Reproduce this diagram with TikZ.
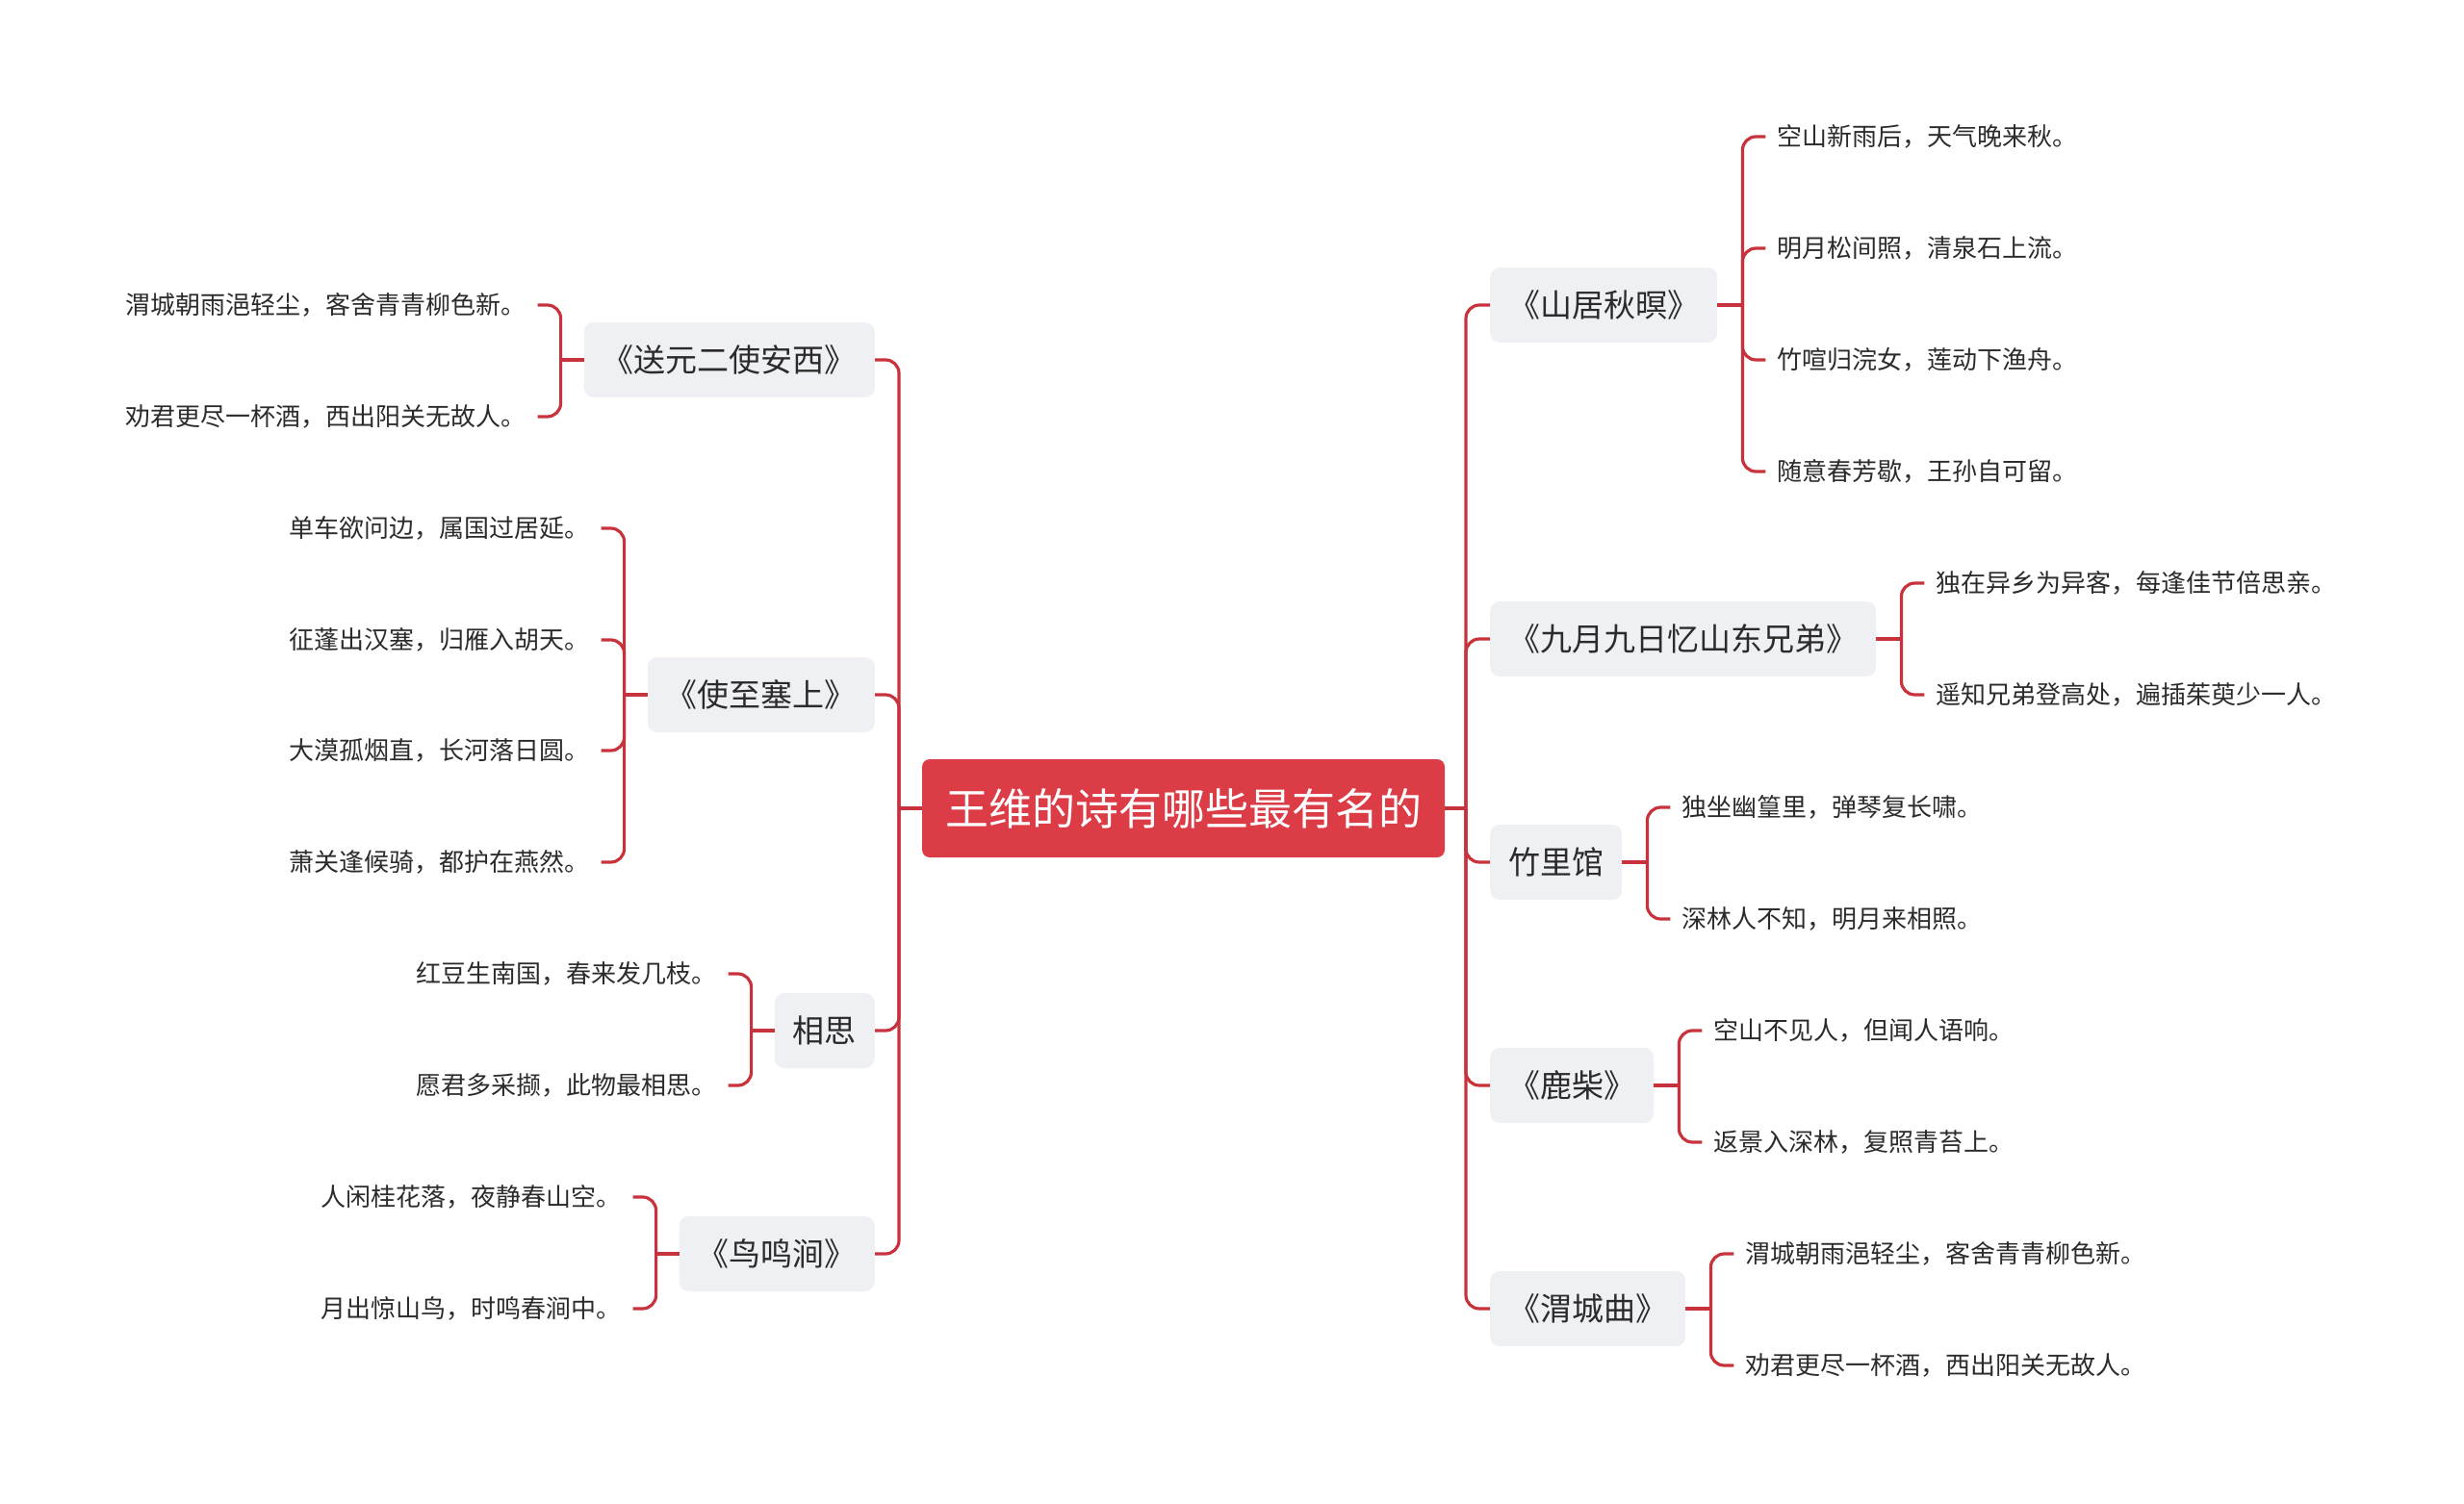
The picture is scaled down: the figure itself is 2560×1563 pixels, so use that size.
\documentclass[tikz,border=0pt]{standalone}
\usepackage{fontspec}
\setmainfont{Noto Sans CJK SC}
\usetikzlibrary{calc}
\definecolor{rootred}{HTML}{DB3C45}
\definecolor{linered}{HTML}{C8323C}
\definecolor{boxgray}{HTML}{EEF0F3}
\definecolor{txt}{HTML}{2B2B2B}
\begin{document}
\begin{tikzpicture}[x=1pt,y=-1pt,
 rootbox/.style={fill=rootred, text=white, rounded corners=8pt, font=\fontsize{45}{54}\selectfont, inner xsep=24pt, inner ysep=0pt, minimum height=102pt},
 topic/.style={fill=boxgray, text=txt, rounded corners=10pt, font=\fontsize{33}{40}\selectfont, inner xsep=19pt, inner ysep=0pt, minimum height=78pt},
 leaf/.style={text=txt, font=\fontsize{26}{31}\selectfont, inner xsep=12pt, inner ysep=4pt},
 conn/.style={draw=linered, line width=3.2pt, rounded corners=14pt},
 straight/.style={draw=linered, line width=3.2pt}]
\useasboundingbox (0,0) rectangle (2560,1563);

\node[rootbox] (root) at (1229.5,840) {王维的诗有哪些最有名的};

% right topics
\node[topic,anchor=west] (r1) at (1548,317) {《山居秋暝》};
\node[topic,anchor=west] (r2) at (1548,664) {《九月九日忆山东兄弟》};
\node[topic,anchor=west] (r3) at (1548,896) {竹里馆};
\node[topic,anchor=west] (r4) at (1548,1128) {《鹿柴》};
\node[topic,anchor=west] (r5) at (1548,1360) {《渭城曲》};

% left topics
\node[topic,anchor=east] (l1) at (909,374) {《送元二使安西》};
\node[topic,anchor=east] (l2) at (909,722) {《使至塞上》};
\node[topic,anchor=east] (l3) at (909,1071) {相思};
\node[topic,anchor=east] (l4) at (909,1303) {《鸟鸣涧》};

% trunks
\coordinate (rt) at (1523,840);
\coordinate (lt) at (934,840);
\draw[straight] (root.east) -- (rt);
\draw[straight] (root.west) -- (lt);
\foreach \n in {r1,r2,r3,r4,r5} \draw[conn] (rt) |- (\n.west);
\foreach \n in {l1,l2,l3,l4} \draw[conn] (lt) |- (\n.east);

% bracket points
\foreach \n in {r1,r2,r3,r4,r5} {
  \draw[straight] (\n.east) -- ++(26,0) coordinate (\n b);
  \coordinate (\n L) at ($(\n b)+(24,0)$);
}
\foreach \n in {l1,l2,l3,l4} {
  \draw[straight] (\n.west) -- ++(-24,0) coordinate (\n b);
  \coordinate (\n L) at ($(\n b)+(-24,0)$);
}

% right leaves
\node[leaf,anchor=west] (r1a) at (r1L |- 0,142) {空山新雨后，天气晚来秋。};
\node[leaf,anchor=west] (r1c) at (r1L |- 0,258) {明月松间照，清泉石上流。};
\node[leaf,anchor=west] (r1d) at (r1L |- 0,374) {竹喧归浣女，莲动下渔舟。};
\node[leaf,anchor=west] (r1e) at (r1L |- 0,490) {随意春芳歇，王孙自可留。};
\node[leaf,anchor=west] (r2a) at (r2L |- 0,606) {独在异乡为异客，每逢佳节倍思亲。};
\node[leaf,anchor=west] (r2c) at (r2L |- 0,722) {遥知兄弟登高处，遍插茱萸少一人。};
\node[leaf,anchor=west] (r3a) at (r3L |- 0,839) {独坐幽篁里，弹琴复长啸。};
\node[leaf,anchor=west] (r3c) at (r3L |- 0,955) {深林人不知，明月来相照。};
\node[leaf,anchor=west] (r4a) at (r4L |- 0,1071) {空山不见人，但闻人语响。};
\node[leaf,anchor=west] (r4c) at (r4L |- 0,1187) {返景入深林，复照青苔上。};
\node[leaf,anchor=west] (r5a) at (r5L |- 0,1303) {渭城朝雨浥轻尘，客舍青青柳色新。};
\node[leaf,anchor=west] (r5c) at (r5L |- 0,1419) {劝君更尽一杯酒，西出阳关无故人。};

\foreach \n/\l in {r1/r1a,r1/r1c,r1/r1d,r1/r1e,r2/r2a,r2/r2c,r3/r3a,r3/r3c,r4/r4a,r4/r4c,r5/r5a,r5/r5c}
  \draw[conn] (\n b) |- (\l.west);

% left leaves
\node[leaf,anchor=east] (l1a) at (l1L |- 0,317) {渭城朝雨浥轻尘，客舍青青柳色新。};
\node[leaf,anchor=east] (l1c) at (l1L |- 0,433) {劝君更尽一杯酒，西出阳关无故人。};
\node[leaf,anchor=east] (l2a) at (l2L |- 0,549) {单车欲问边，属国过居延。};
\node[leaf,anchor=east] (l2c) at (l2L |- 0,665) {征蓬出汉塞，归雁入胡天。};
\node[leaf,anchor=east] (l2d) at (l2L |- 0,780) {大漠孤烟直，长河落日圆。};
\node[leaf,anchor=east] (l2e) at (l2L |- 0,896) {萧关逢候骑，都护在燕然。};
\node[leaf,anchor=east] (l3a) at (l3L |- 0,1012) {红豆生南国，春来发几枝。};
\node[leaf,anchor=east] (l3c) at (l3L |- 0,1128) {愿君多采撷，此物最相思。};
\node[leaf,anchor=east] (l4a) at (l4L |- 0,1244) {人闲桂花落，夜静春山空。};
\node[leaf,anchor=east] (l4c) at (l4L |- 0,1360) {月出惊山鸟，时鸣春涧中。};

\foreach \n/\l in {l1/l1a,l1/l1c,l2/l2a,l2/l2c,l2/l2d,l2/l2e,l3/l3a,l3/l3c,l4/l4a,l4/l4c}
  \draw[conn] (\n b) |- (\l.east);
\end{tikzpicture}
\end{document}
